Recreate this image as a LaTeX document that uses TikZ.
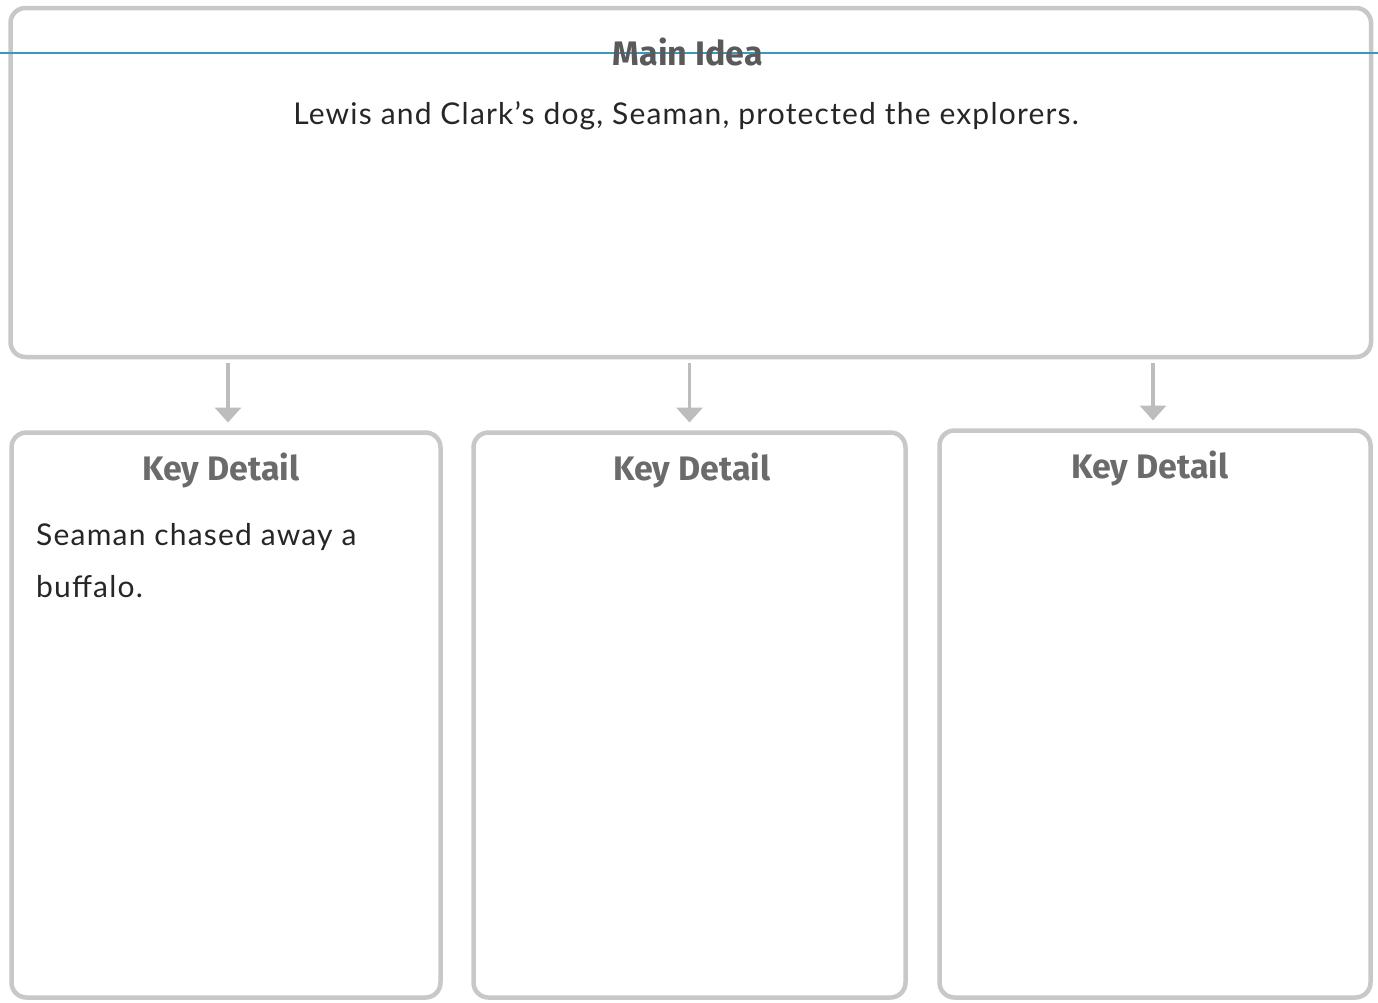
\documentclass[tikz,border=0pt]{standalone}
\usepackage{fontspec}
\setmainfont{Lato}
\newfontfamily\headfont{Fira Sans}
\newfontfamily\handfont[LetterSpace=4]{Lato}
\usetikzlibrary{arrows.meta}
\definecolor{boxgray}{HTML}{C8C8C8}
\definecolor{headgray}{HTML}{5A5A5A}
\definecolor{rulecol}{HTML}{3A98BE}
\definecolor{arrowgray}{HTML}{BDBDBD}
\tikzset{
  x=1pt, y=1pt,
  panel/.style={draw=boxgray, line width=4.5pt, rounded corners=15pt, inner sep=0pt, outer sep=0pt},
  headtext/.style={font=\headfont\bfseries\fontsize{34}{38}\selectfont, text=headgray, inner sep=0pt},
  keytext/.style={font=\headfont\bfseries\fontsize{34}{38}\selectfont, text=headgray!90, inner sep=0pt},
  hand/.style={font=\handfont\fontsize{30}{52}\selectfont, text=black!85, inner sep=0pt},
  downarrow/.style={draw=arrowgray, line width=3.5pt, -{Triangle[width=26pt,length=15pt]}, shorten <=6pt, shorten >=10pt}
}
\begin{document}
\begin{tikzpicture}
\useasboundingbox (0,0) rectangle (1378,-1002);
\fill[white] (0,0) rectangle (1378,-1002);
% main box
\node[panel, minimum width=1360.5pt, minimum height=349pt] (main) at (690.75,-182.5) {};
% key detail boxes
\node[panel, minimum width=429pt, minimum height=565pt] (k1) at (226,-715) {};
\node[panel, minimum width=432pt, minimum height=565pt] (k2) at (689.5,-715) {};
\node[panel, minimum width=431pt, minimum height=567pt] (k3) at (1155,-714) {};
% blue rule
\coordinate (rl) at (0,-53);
\coordinate (rr) at (1378,-53);
\draw[rulecol, line width=1.2pt] (rl) -- (rr);
% headings
\node[headtext] (mt) at (688,-52) {Main Idea};
\node[hand, anchor=base] (mtext) at (686,-124) {Lewis and Clark’s dog, Seaman, protected the explorers.};
\node[keytext] (h1) at (221,-470) {Key Detail};
\node[keytext] (h2) at (692,-470) {Key Detail};
\node[keytext] (h3) at (1150,-468) {Key Detail};
\node[hand, anchor=base west, align=left] (d1) at (36,-597) {Seaman chased away a\\buffalo.};
% arrows
\draw[downarrow] (main.south -| 228,0) -- (k1.north -| 228,0);
\draw[downarrow] (main.south -| k2.north) -- (k2.north);
\draw[downarrow] (main.south -| 1153,0) -- (k3.north -| 1153,0);
\end{tikzpicture}
\end{document}
